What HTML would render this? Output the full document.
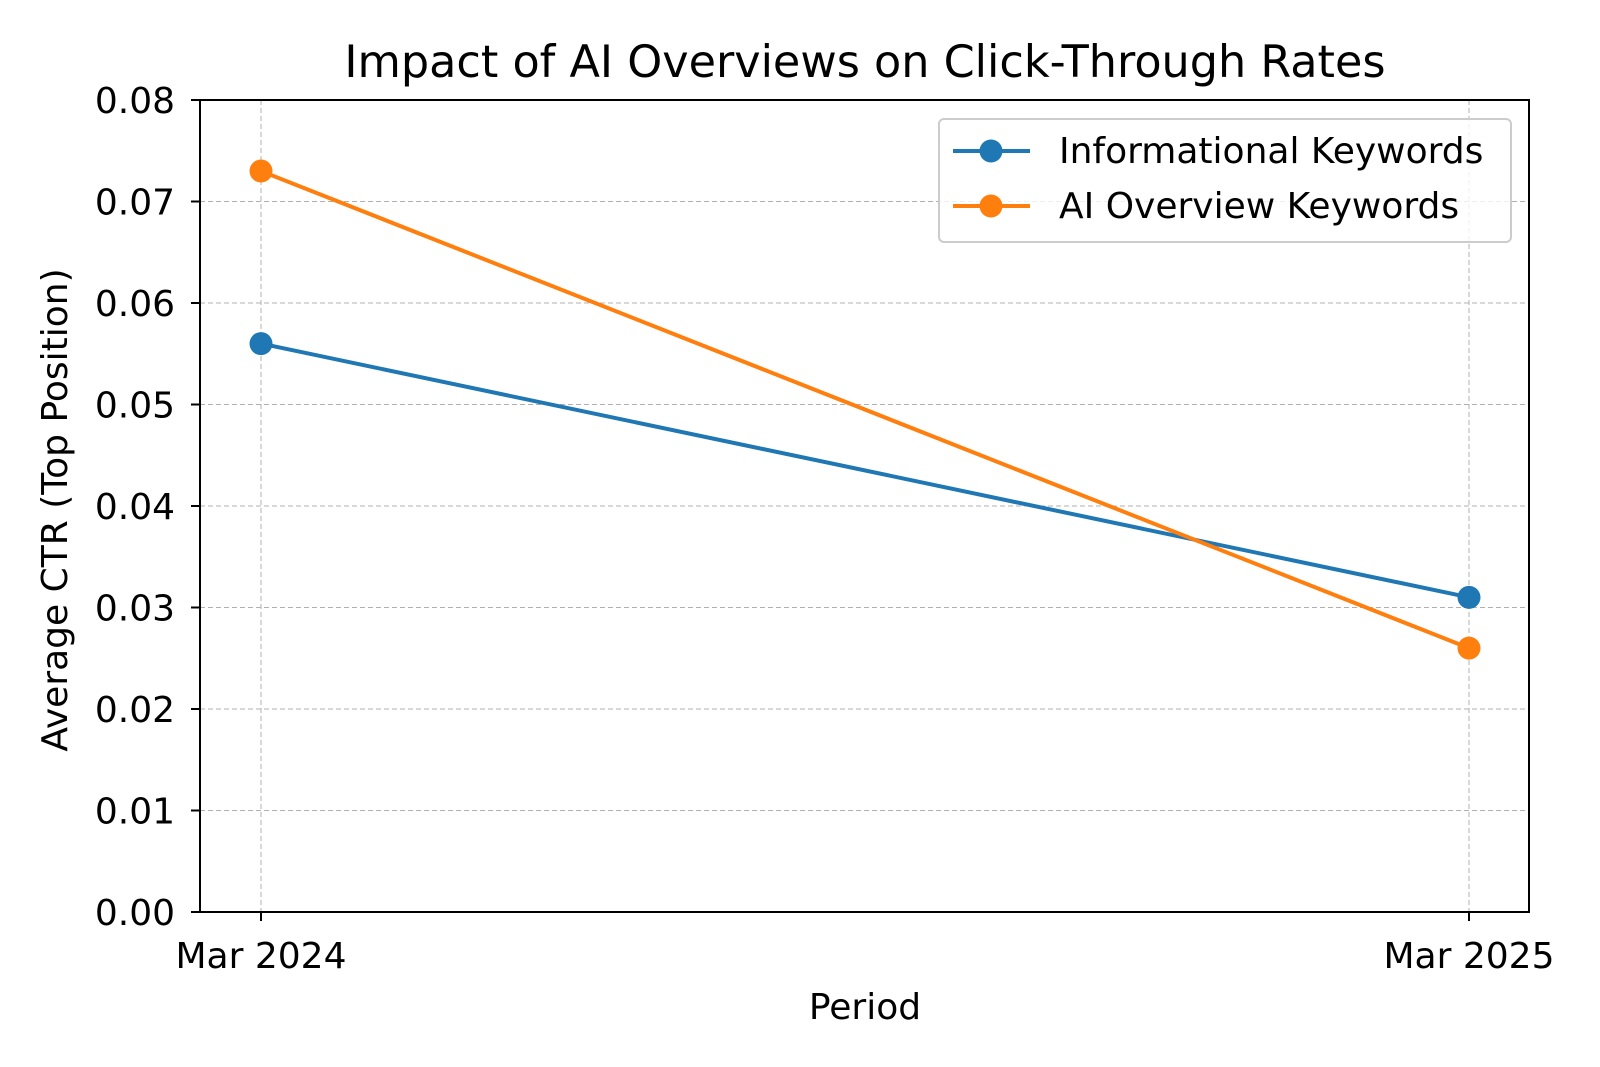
<!DOCTYPE html>
<html><head><meta charset="utf-8"><style>
html,body{margin:0;padding:0;background:#fff;}
svg{display:block;font-family:"DejaVu Sans","Liberation Sans",sans-serif;}
</style></head><body>
<svg id="chart" width="1600" height="1067" viewBox="0 0 1600 1067">
<rect width="1600" height="1067" fill="#fff"/>
<text x="865" y="77" font-size="44.5" text-anchor="middle" fill="#000">Impact of AI Overviews on Click-Through Rates</text>
<g id="grid"></g>
<g id="yticks"></g>
<g id="xticks"></g>
<g id="series"></g>
<rect x="200" y="100" width="1329" height="812" fill="none" stroke="#000" stroke-width="2"/>
<text transform="translate(67,510) rotate(-90)" font-size="36" text-anchor="middle" fill="#000">Average CTR (Top Position)</text>
<text x="865" y="1019" font-size="36" text-anchor="middle" fill="#000">Period</text>
<g transform="translate(-6,0)">
<rect x="945" y="119" width="572" height="123" rx="5" fill="#fff" fill-opacity="0.8" stroke="#ccc" stroke-width="2"/>
<g>
<line x1="959" y1="151" x2="1036" y2="151" stroke="#1f77b4" stroke-width="4"/>
<circle cx="997" cy="151" r="11.5" fill="#1f77b4"/>
<text x="1065" y="163" font-size="36" fill="#000">Informational Keywords</text>
</g>
<g>
<line x1="959" y1="206" x2="1036" y2="206" stroke="#ff7f0e" stroke-width="4"/>
<circle cx="997" cy="206" r="11.5" fill="#ff7f0e"/>
<text x="1065" y="218" font-size="36" fill="#000">AI Overview Keywords</text>
</g>
</g>
</svg>
<script>
const categories = ["Mar 2024", "Mar 2025"];
const informational = [0.056, 0.031];
const aiOverview = [0.073, 0.026];
const yTicks = [0, 0.01, 0.02, 0.03, 0.04, 0.05, 0.06, 0.07, 0.08];
const yTickLabels = ["0.00","0.01","0.02","0.03","0.04","0.05","0.06","0.07","0.08"];

const NS = "http://www.w3.org/2000/svg";
const plotL = 200, plotR = 1529, plotT = 100, plotB = 912;
const xFirst = 261, xLast = 1469;
function xScale(i){ return xFirst + (xLast - xFirst) * i / (categories.length - 1); }
function yScale(v){ return plotB - (v - 0) / (0.08 - 0) * (plotB - plotT); }
function mk(tag, attrs, parent){
  const e = document.createElementNS(NS, tag);
  for (const k in attrs) e.setAttribute(k, attrs[k]);
  parent.appendChild(e);
  return e;
}
const grid = document.getElementById('grid');
const yg = document.getElementById('yticks');
const xg = document.getElementById('xticks');
const sg = document.getElementById('series');

yTicks.forEach((v, i) => {
  const y = yScale(v);
  const gl = mk('line', {x1: plotL, x2: plotR, y1: y, y2: y, stroke: '#b0b0b0', 'stroke-width': 1, 'stroke-dasharray': '5,3'}, grid);
  
  
  const tk = mk('line', {x1: plotL - 9, x2: plotL, y1: y, y2: y, stroke: '#000', 'stroke-width': 2}, yg);
  
  
  const t = mk('text', {x: plotL - 25, y: y + 13, 'font-size': 36, 'text-anchor': 'end', fill: '#000'}, yg);
  t.textContent = yTickLabels[i];
  
  
});
categories.forEach((c, i) => {
  const x = xScale(i);
  const gl = mk('line', {x1: x, x2: x, y1: plotT, y2: plotB, stroke: '#b0b0b0', 'stroke-width': 1, 'stroke-dasharray': '5,3'}, grid);
  
  
  const tk = mk('line', {x1: x, x2: x, y1: plotB, y2: plotB + 9, stroke: '#000', 'stroke-width': 2}, xg);
  
  
  const t = mk('text', {x: x, y: plotB + 56, 'font-size': 36, 'text-anchor': 'middle', fill: '#000'}, xg);
  t.textContent = c;
  
  
});
function drawSeries(vals, color, name){
  const pts = vals.map((v, i) => xScale(i) + ',' + yScale(v)).join(' ');
  const pl = mk('polyline', {points: pts, fill: 'none', stroke: color, 'stroke-width': 4}, sg);
  
  
  vals.forEach((v, i) => {
    const c = mk('circle', {cx: xScale(i), cy: yScale(v), r: 11.5, fill: color}, sg);
    
    
  });
}
drawSeries(informational, '#1f77b4', 'informational');
drawSeries(aiOverview, '#ff7f0e', 'ai-overview');
</script>
</body></html>
